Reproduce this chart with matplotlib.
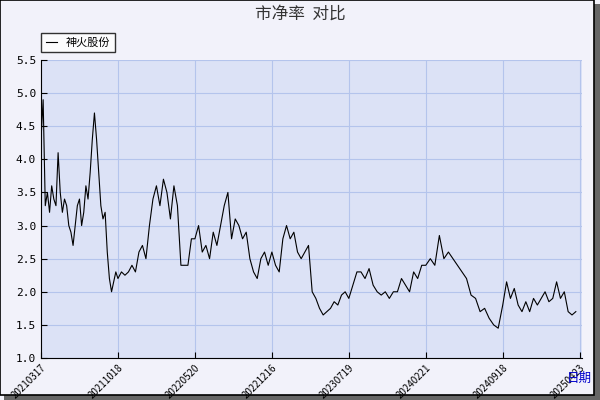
import matplotlib
matplotlib.use("Agg")
import matplotlib.pyplot as plt
import numpy as np
from matplotlib.patches import Rectangle

plt.rcParams['font.family'] = ['Noto Sans CJK SC', 'DejaVu Sans']

tick_labels = ["20210317", "20211018", "20220520", "20221216", "20230719", "20240221", "20240918", "20250423"]
seg1 = [4.3, 4.9, 3.3, 3.5, 3.2, 3.6, 3.4, 3.3, 4.1, 3.5, 3.2, 3.4, 3.3, 3.0, 2.9, 2.7, 3.0, 3.3, 3.4, 3.0, 3.2, 3.6, 3.4, 3.8, 4.3, 4.7, 4.3, 3.8, 3.3, 3.1, 3.2, 2.6, 2.2, 2.0, 2.15, 2.3]
seg2 = [2.2, 2.3, 2.25, 2.3, 2.4, 2.3, 2.6, 2.7, 2.5, 3.0, 3.4, 3.6, 3.3, 3.7, 3.5, 3.1, 3.6, 3.3, 2.4, 2.4, 2.4, 2.8]
seg3 = [2.8, 3.0, 2.6, 2.7, 2.5, 2.9, 2.7, 3.0, 3.3, 3.5, 2.8, 3.1, 3.0, 2.8, 2.9, 2.5, 2.3, 2.2, 2.5, 2.6, 2.4]
seg4 = [2.6, 2.4, 2.3, 2.8, 3.0, 2.8, 2.9, 2.6, 2.5, 2.6, 2.7, 2.0, 1.9, 1.75, 1.65, 1.7, 1.75, 1.85, 1.8, 1.95, 2.0]
seg5 = [1.9, 2.1, 2.3, 2.3, 2.2, 2.35, 2.1, 2.0, 1.95, 2.0, 1.9, 2.0, 2.0, 2.2, 2.1, 2.0, 2.3, 2.2, 2.4]
seg6 = [2.4, 2.5, 2.4, 2.85, 2.5, 2.6, 2.5, 2.4, 2.3, 2.2, 1.95, 1.9, 1.7, 1.75, 1.6, 1.5, 1.45]
seg7 = [1.8, 2.15, 1.9, 2.05, 1.8, 1.7, 1.85, 1.7, 1.9, 1.8, 1.9, 2.0, 1.85, 1.9, 2.15, 1.9, 2.0, 1.7, 1.65, 1.7]
segments = [seg1, seg2, seg3, seg4, seg5, seg6, seg7]

xs, ys = [], []
for k, s in enumerate(segments):
    n = len(s)
    xs.extend(k + np.arange(n) / n)
    ys.extend(s)

fig = plt.figure(figsize=(6, 4), dpi=100, facecolor='#F2F2FA')
fig.patches.append(Rectangle((0.006, 0.0), 0.994, 0.99, transform=fig.transFigure, facecolor='#666666', edgecolor='none', zorder=-2))
fig.patches.append(Rectangle((0.0, 0.012), 0.99, 0.988, transform=fig.transFigure, facecolor='#F2F2FA', edgecolor='black', lw=1.2, zorder=-1))

ax = fig.add_axes([41/600, 1 - 358/400, (582-41)/600, (358-60)/400])
ax.set_facecolor('#DCE2F6')
ax.plot(xs, ys, color='black', lw=0.8)
ax.set_ylim(1.0, 5.5)
yt = np.arange(1.0, 5.51, 0.5)
ax.set_yticks(yt)
ax.set_yticklabels([f"{v:.1f}" for v in yt], fontsize=8, family='DejaVu Sans Mono')
ax.set_xticks(range(len(tick_labels)))
ax.set_xticklabels(tick_labels, rotation=45, ha='right', fontsize=7, rotation_mode='anchor')
ax.grid(True, color='#B4C4EC', lw=0.8)
for s in ['top', 'right']:
    ax.spines[s].set_visible(False)
ax.tick_params(direction='in', length=4)
ax.set_xlim(0, 7.03)

fig.text(0.5, 0.965, "市净率  对比", ha='center', va='center', fontsize=12, color='#333333')
fig.text(0.965, 0.055, "日期", ha='center', va='center', fontsize=9, color='#0000CC')
leg = ax.legend(["神火股份"], loc='upper left', bbox_to_anchor=(-0.01, 1.11), fontsize=8, frameon=True, fancybox=False, handlelength=1, edgecolor='black')
leg.get_frame().set_facecolor('white')
fig.savefig("out.png", dpi=100, facecolor=fig.get_facecolor())
